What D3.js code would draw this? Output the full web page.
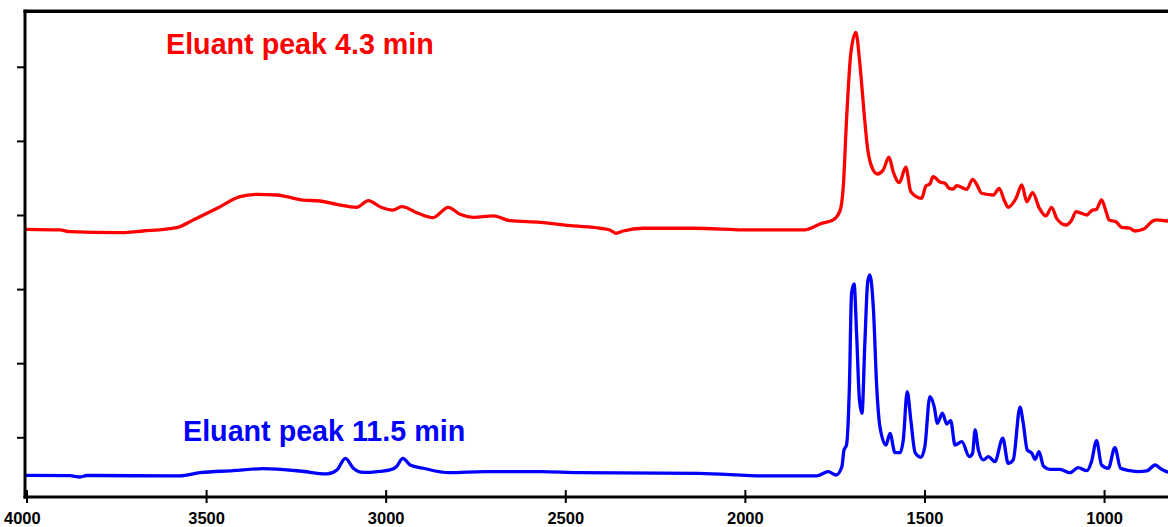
<!DOCTYPE html>
<html>
<head>
<meta charset="utf-8">
<script src="https://cdn.jsdelivr.net/npm/d3@7/dist/d3.min.js"></script>
<style>
  html, body { margin: 0; padding: 0; background: #fff; }
  svg { display: block; }
</style>
</head>
<body>
<svg id="chart" width="1168" height="527"></svg>
<script>
// ---- Data (wavenumber cm-1, absorbance in arbitrary offset units) ----
const xTicks = [4000, 3500, 3000, 2500, 2000, 1500, 1000];
const yTicks = [1, 2, 3, 4, 5, 6];

const labelRed = "Eluant peak 4.3 min";
const labelBlue = "Eluant peak 11.5 min";

const redWave = [4000,3907,3879,3749,3676,3582,3536,3461,3406,3359,3303,3276,3230,3183,3136,3081,3048,3016,2980,2955,2910,2868,2826,2793,2756,2700,2654,2570,2478,2403,2376,2359,2339,2283,2144,1986,1833,1810,1791,1754,1735,1726,1717,1705,1691,1680,1668,1659,1647,1631,1615,1599,1587,1570,1552,1538,1508,1496,1485,1476,1457,1443,1431,1420,1410,1382,1366,1355,1341,1308,1292,1278,1267,1245,1229,1215,1199,1180,1162,1146,1132,1106,1090,1078,1048,1035,1021,1007,993,986,967,951,928,914,891,863,853,826,820];
const redAbs  = [3.807,3.798,3.775,3.761,3.784,3.829,3.933,4.112,4.247,4.279,4.270,4.247,4.202,4.189,4.144,4.104,4.193,4.112,4.067,4.112,4.023,3.964,4.104,4.009,3.969,3.987,3.923,3.901,3.852,3.821,3.798,3.753,3.784,3.821,3.821,3.798,3.798,3.834,3.879,3.933,4.058,4.382,5.282,6.182,6.463,6.047,5.372,4.922,4.652,4.553,4.607,4.779,4.584,4.436,4.644,4.314,4.225,4.391,4.418,4.517,4.445,4.428,4.360,4.351,4.395,4.347,4.482,4.418,4.293,4.270,4.360,4.200,4.104,4.225,4.405,4.179,4.301,4.090,3.987,4.104,3.955,3.865,3.933,4.045,4.000,4.058,4.077,4.202,4.023,3.933,3.910,3.834,3.821,3.784,3.807,3.923,3.933,3.919,3.920];

const blueWave = [4000,3879,3851,3832,3573,3517,3425,3341,3239,3164,3136,3112,3090,3062,3016,2988,2971,2952,2932,2895,2824,2724,2568,2462,2128,1944,1800,1768,1746,1730,1724,1717,1709,1703,1696,1689,1681,1674,1666,1658,1652,1642,1633,1624,1607,1596,1582,1568,1559,1548,1538,1526,1510,1499,1485,1473,1464,1450,1438,1427,1415,1396,1375,1366,1359,1350,1336,1322,1304,1282,1267,1253,1234,1225,1214,1201,1192,1181,1169,1151,1123,1095,1072,1048,1035,1021,1007,988,970,954,928,905,881,858,844,826,820];
const blueAbs  = [0.487,0.482,0.464,0.484,0.478,0.522,0.549,0.576,0.545,0.505,0.559,0.714,0.582,0.525,0.541,0.559,0.599,0.714,0.626,0.582,0.522,0.536,0.536,0.522,0.514,0.478,0.478,0.536,0.491,0.603,0.829,0.896,1.683,2.943,3.069,2.404,1.503,1.324,2.269,3.100,3.190,2.718,1.683,1.143,0.896,1.054,0.792,0.792,0.964,1.615,1.233,0.792,0.730,0.873,1.548,1.413,1.189,1.324,1.179,1.224,0.896,0.941,0.738,0.784,1.099,0.829,0.694,0.738,0.671,0.987,0.649,0.694,1.405,1.189,0.829,0.784,0.703,0.806,0.613,0.568,0.568,0.522,0.590,0.549,0.671,0.954,0.626,0.582,0.860,0.582,0.549,0.536,0.545,0.626,0.582,0.536,0.530];

// ---- Layout ----
const svg = d3.select("#chart");
const mLeft = 25, mRight = 1168, mTop = 11.3, mBottom = 497;

const x = d3.scaleLinear().domain([4000, 822]).range([26.5, 1168]);
const y = d3.scaleLinear().domain([0.194, 6.749]).range([mBottom, mTop]);

const redData = redWave.map((w, i) => ({w, a: redAbs[i]}));
const blueData = blueWave.map((w, i) => ({w, a: blueAbs[i]}));

svg.append("defs").append("clipPath").attr("id", "clip")
  .append("rect").attr("x", mLeft).attr("y", mTop).attr("width", mRight - mLeft).attr("height", mBottom - mTop);

const line = d3.line().x(d => x(d.w)).y(d => y(d.a)).curve(d3.curveMonotoneX);

const plot = svg.append("g").attr("clip-path", "url(#clip)");
plot.append("path").datum(redData).attr("d", line)
  .attr("fill", "none").attr("stroke", "#ff0000").attr("stroke-width", 3.3)
  .attr("stroke-linejoin", "round").attr("stroke-linecap", "round");
plot.append("path").datum(blueData).attr("d", line)
  .attr("fill", "none").attr("stroke", "#0000ff").attr("stroke-width", 3.3)
  .attr("stroke-linejoin", "round").attr("stroke-linecap", "round");

// ---- Axes ----
const xAxis = d3.axisBottom(x).tickValues(xTicks).tickFormat(d3.format("d"))
  .tickSizeInner(6).tickSizeOuter(0).tickPadding(9);
const gx = svg.append("g").attr("transform", `translate(0,${mBottom})`).call(xAxis);
gx.select(".domain").remove();
gx.selectAll(".tick line").attr("y1", -7).attr("stroke", "#000").attr("stroke-width", 2);
gx.selectAll(".tick text")
  .attr("font-family", "'Liberation Sans', Arial, sans-serif")
  .attr("font-weight", "bold").attr("font-size", 16.5).attr("fill", "#000");
gx.selectAll(".tick text").filter(d => d === 4000).attr("text-anchor", "start").attr("x", -23);

const yAxis = d3.axisLeft(y).tickValues(yTicks).tickFormat("").tickSizeInner(8).tickSizeOuter(0);
const gy = svg.append("g").attr("transform", `translate(${mLeft},0)`).call(yAxis);
gy.select(".domain").remove();
gy.selectAll(".tick line").attr("stroke", "#000").attr("stroke-width", 2);

// frame lines
svg.append("line").attr("x1", mLeft).attr("x2", mLeft).attr("y1", mTop - 1.5).attr("y2", mBottom + 1.5)
  .attr("stroke", "#000").attr("stroke-width", 3);
svg.append("line").attr("x1", mLeft - 1.5).attr("x2", mRight).attr("y1", mBottom).attr("y2", mBottom)
  .attr("stroke", "#000").attr("stroke-width", 3);
svg.append("line").attr("x1", mLeft - 1.5).attr("x2", mRight).attr("y1", mTop).attr("y2", mTop)
  .attr("stroke", "#000").attr("stroke-width", 3.5);

// ---- Labels ----
svg.append("text").attr("x", 166).attr("y", 54).text(labelRed)
  .attr("font-family", "'Liberation Sans', Arial, sans-serif").attr("font-weight", "bold")
  .attr("font-size", 28.7).attr("fill", "#ff0000");
svg.append("text").attr("x", 183).attr("y", 441).text(labelBlue)
  .attr("font-family", "'Liberation Sans', Arial, sans-serif").attr("font-weight", "bold")
  .attr("font-size", 28.7).attr("fill", "#0000ff");
</script>
</body>
</html>
